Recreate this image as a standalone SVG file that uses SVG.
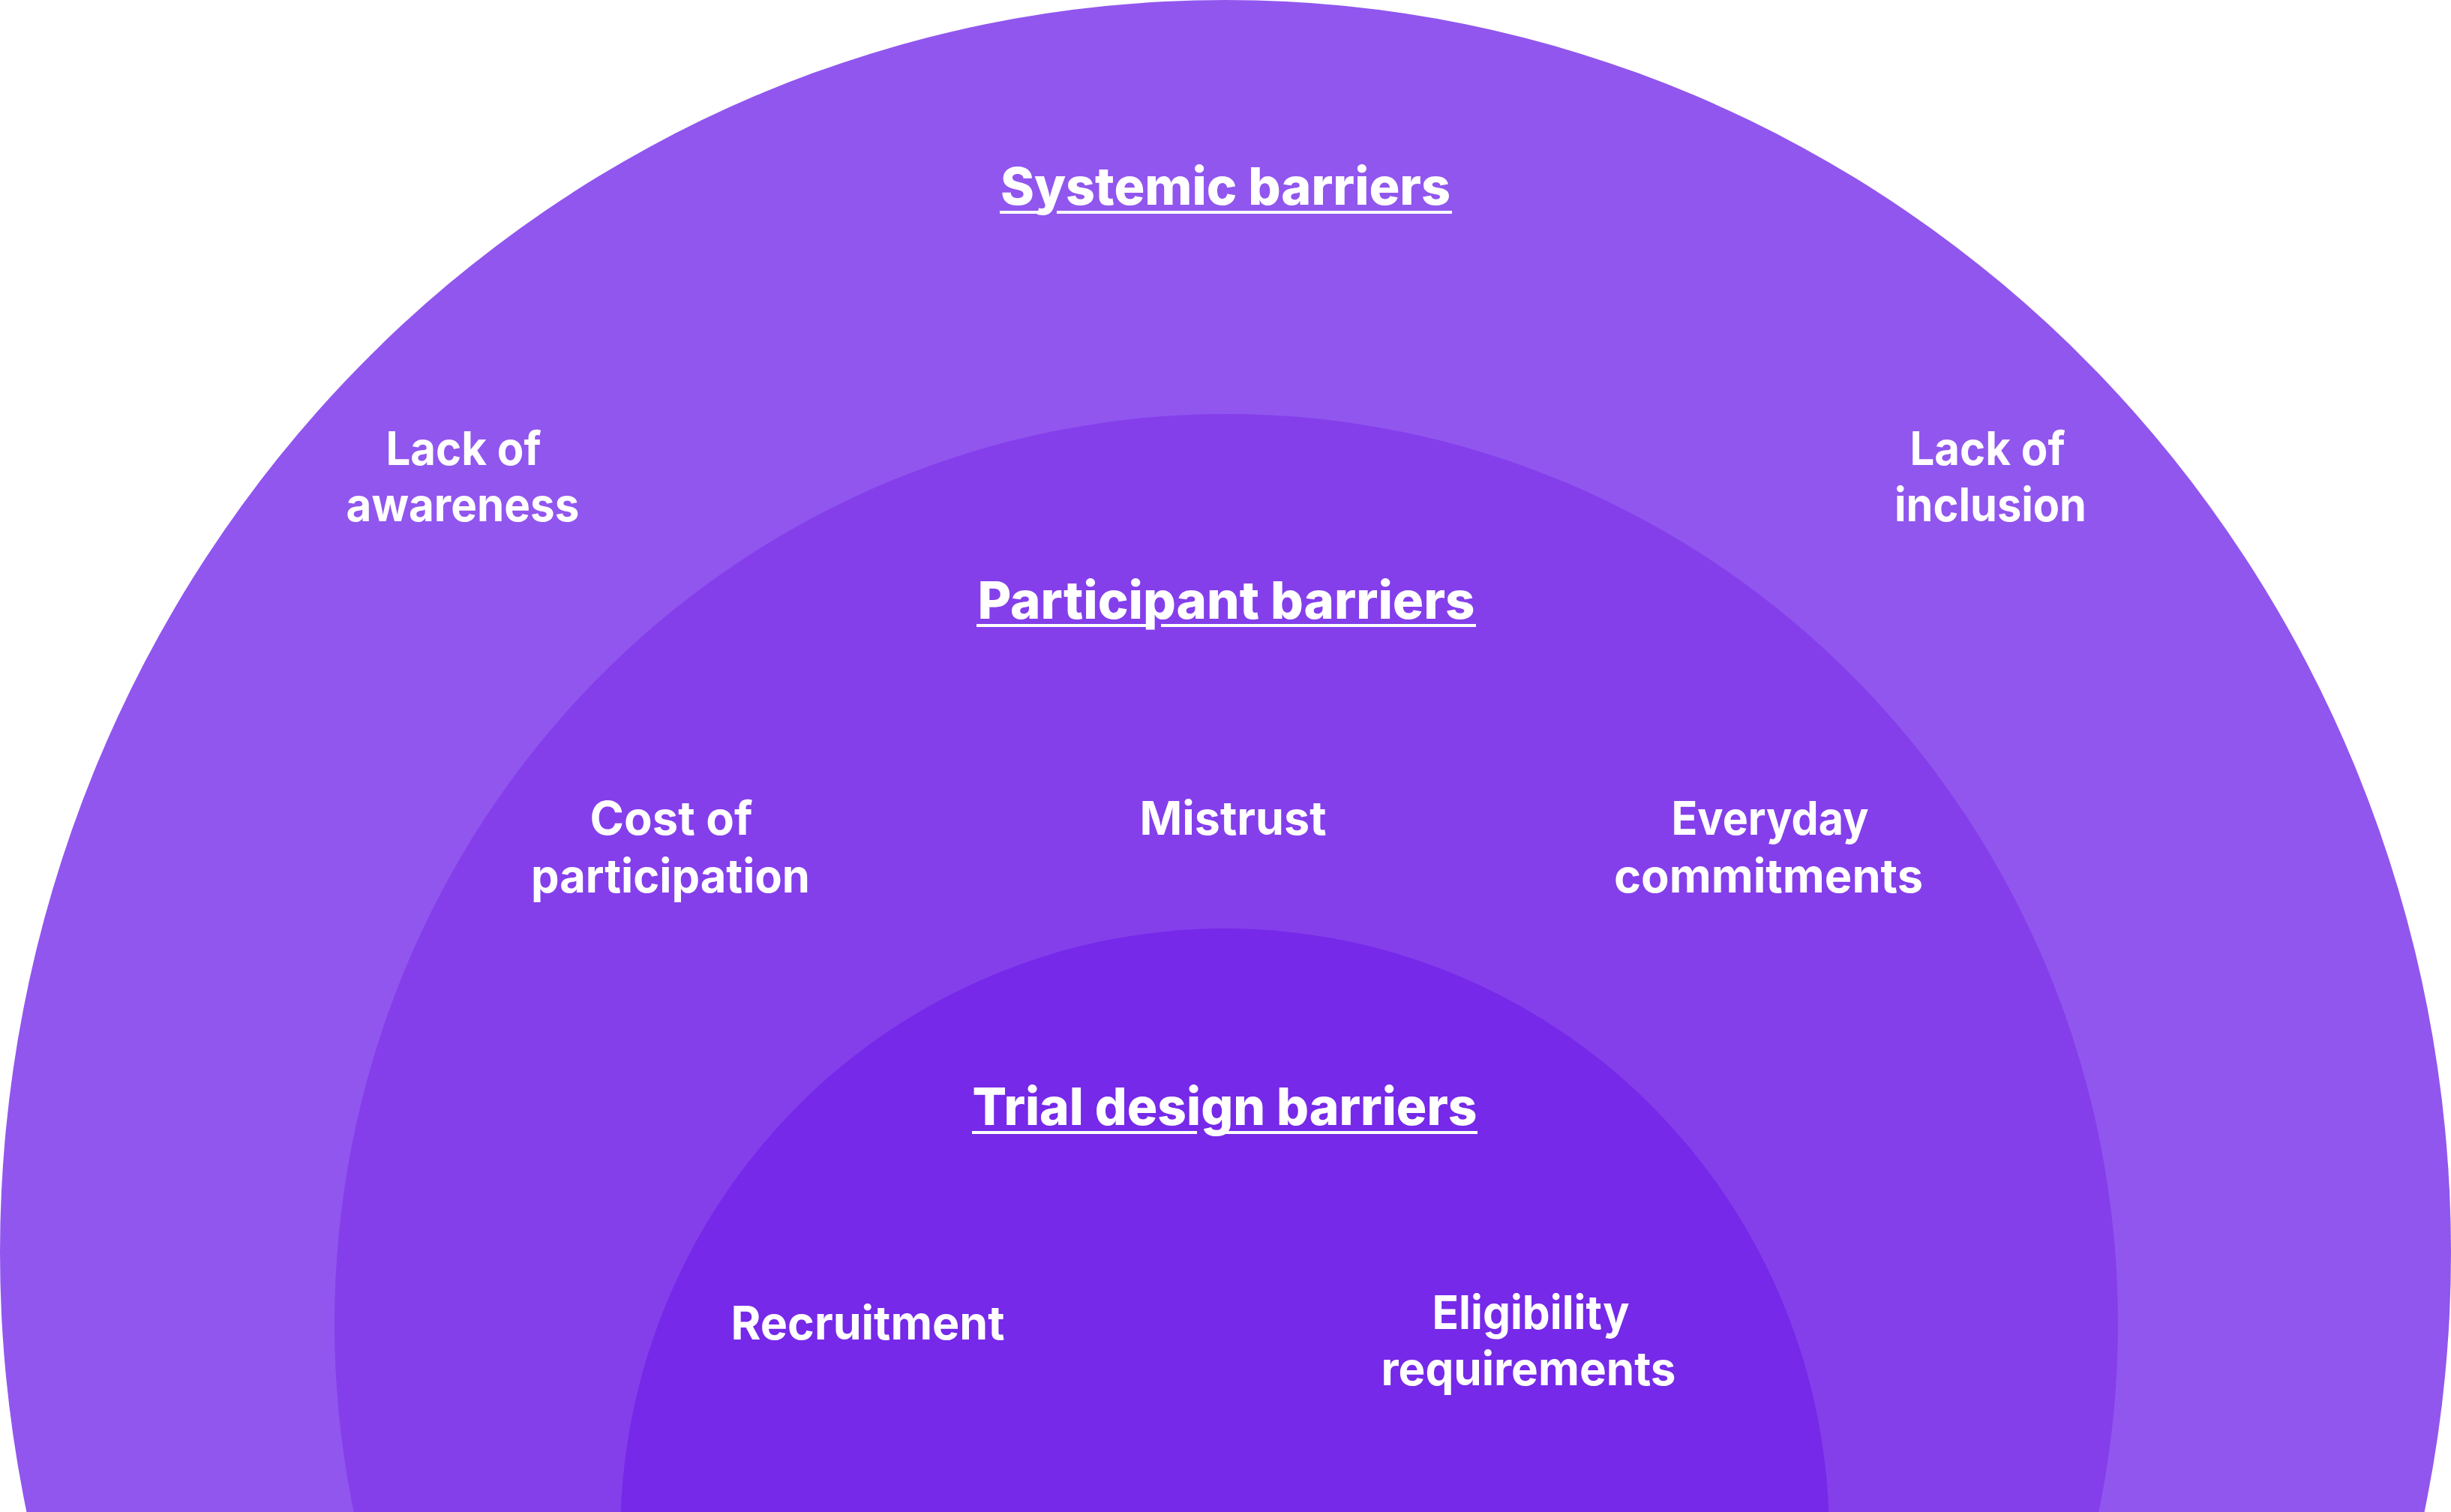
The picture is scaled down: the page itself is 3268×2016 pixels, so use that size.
<svg xmlns="http://www.w3.org/2000/svg" width="3268" height="2016" viewBox="0 0 3268 2016">
<style>
.lbl{font-family:Inter,"Liberation Sans",sans-serif;font-weight:700;font-size:62px;fill:#FFFFFF;text-anchor:middle}
.hd{font-family:Inter,"Liberation Sans",sans-serif;font-weight:800;font-size:69px;fill:#FFFFFF;text-anchor:middle}
.ul{fill:#FFFFFF}
</style>
<rect x="0" y="0" width="3268" height="2016" fill="#FFFFFF"/>
<g id="systemic">
<ellipse cx="1634" cy="1670" rx="1634" ry="1670" fill="#9156EE"/>
<text class="hd" x="1634" y="273" textLength="600" lengthAdjust="spacingAndGlyphs">Systemic barriers</text>
<rect class="ul" x="1333" y="281" width="54" height="4"/>
<rect class="ul" x="1409" y="281" width="527" height="4"/>
<g id="lack-awareness">
<text class="lbl" x="618" y="620" textLength="207" lengthAdjust="spacingAndGlyphs">Lack of</text>
<text class="lbl" x="617" y="695" textLength="311" lengthAdjust="spacingAndGlyphs">awareness</text>
</g>
<g id="lack-inclusion">
<text class="lbl" x="2650" y="620" textLength="207" lengthAdjust="spacingAndGlyphs">Lack of</text>
<text class="lbl" x="2654" y="695" textLength="256" lengthAdjust="spacingAndGlyphs">inclusion</text>
</g>
</g>
<g id="participant">
<ellipse cx="1635" cy="1765" rx="1189" ry="1213" fill="#843FEB"/>
<text class="hd" x="1635" y="825" textLength="663" lengthAdjust="spacingAndGlyphs">Participant barriers</text>
<rect class="ul" x="1302" y="832" width="226" height="4"/>
<rect class="ul" x="1548" y="832" width="420" height="4"/>
<g id="cost">
<text class="lbl" x="895" y="1113" textLength="217" lengthAdjust="spacingAndGlyphs">Cost of</text>
<text class="lbl" x="894" y="1190" textLength="372" lengthAdjust="spacingAndGlyphs">participation</text>
</g>
<g id="mistrust">
<text class="lbl" x="1644" y="1113" textLength="249" lengthAdjust="spacingAndGlyphs">Mistrust</text>
</g>
<g id="everyday">
<text class="lbl" x="2360" y="1113" textLength="263" lengthAdjust="spacingAndGlyphs">Everyday</text>
<text class="lbl" x="2358" y="1190" textLength="412" lengthAdjust="spacingAndGlyphs">commitments</text>
</g>
</g>
<g id="trial-design">
<ellipse cx="1633" cy="2048" rx="806" ry="810" fill="#7629E8"/>
<text class="hd" x="1633" y="1500" textLength="673" lengthAdjust="spacingAndGlyphs">Trial design barriers</text>
<rect class="ul" x="1296" y="1508" width="300" height="4"/>
<rect class="ul" x="1632" y="1508" width="338" height="4"/>
<g id="recruitment">
<text class="lbl" x="1157" y="1786" textLength="365" lengthAdjust="spacingAndGlyphs">Recruitment</text>
</g>
<g id="eligibility">
<text class="lbl" x="2041" y="1772" textLength="263" lengthAdjust="spacingAndGlyphs">Eligibility</text>
<text class="lbl" x="2038" y="1847" textLength="393" lengthAdjust="spacingAndGlyphs">requirements</text>
</g>
</g>
<g id="connectors"></g>
</svg>
